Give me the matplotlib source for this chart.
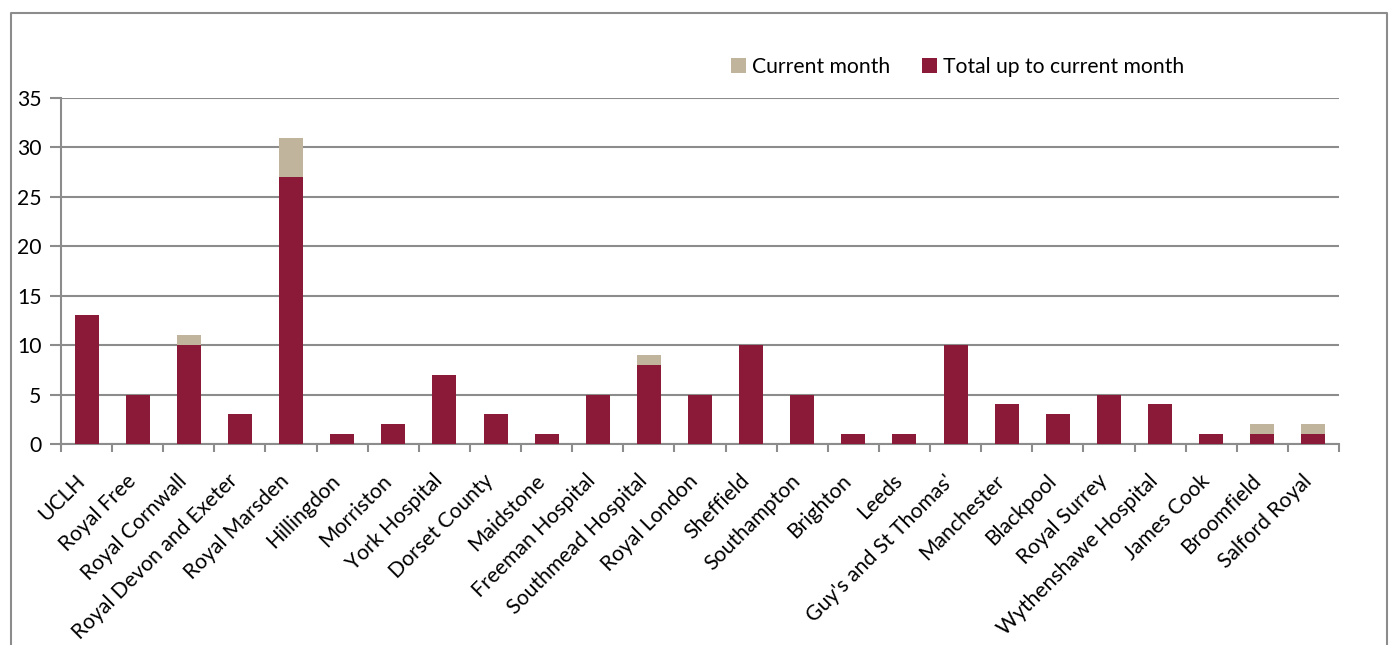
import matplotlib
matplotlib.use("Agg")
import matplotlib.pyplot as plt
from matplotlib.patches import Patch
from matplotlib.lines import Line2D
from matplotlib.transforms import ScaledTranslation
import numpy as np

categories = ["UCLH", "Royal Free", "Royal Cornwall", "Royal Devon and Exeter", "Royal Marsden",
              "Hillingdon", "Morriston", "York Hospital", "Dorset County", "Maidstone",
              "Freeman Hospital", "Southmead Hospital", "Royal London", "Sheffield", "Southampton",
              "Brighton", "Leeds", "Guy's and St Thomas'", "Manchester", "Blackpool",
              "Royal Surrey", "Wythenshawe Hospital", "James Cook", "Broomfield", "Salford Royal"]
total_to_date = [13, 5, 10, 3, 27, 1, 2, 7, 3, 1, 5, 8, 5, 10, 5, 1, 1, 10, 4, 3, 5, 4, 1, 1, 1]
current_month = [0, 0, 1, 0, 4, 0, 0, 0, 0, 0, 0, 1, 0, 0, 0, 0, 0, 0, 0, 0, 0, 0, 0, 1, 1]
yticks = [0, 5, 10, 15, 20, 25, 30, 35]

MAROON = "#8B1A38"
BEIGE = "#C0B49C"
GRID = "#8C8C8C"
FONT = "Lato"
FS = 15.2

plt.rcParams['font.family'] = [FONT, 'DejaVu Sans']

W, H = 1390, 645
fig = plt.figure(figsize=(W / 100, H / 100), dpi=100)

# outer frame (left, top, right; bottom cut off)
fx0, fy0, fx1 = 11 / W, 1 - 13 / H, 1387 / W
fig.add_artist(Line2D([fx0, fx0, fx1, fx1], [0, fy0, fy0, 0], transform=fig.transFigure,
                      color=GRID, lw=1.5))

ax = fig.add_axes([61 / W, 201 / H, (1339 - 61) / W, (547 - 201) / H])
x = np.arange(len(categories))
ax.bar(x, total_to_date, width=0.47, color=MAROON, zorder=3)
ax.bar(x, current_month, width=0.47, bottom=total_to_date, color=BEIGE, zorder=3)

ax.set_xlim(-0.5, len(categories) - 0.5)
ax.set_ylim(0, 35)
ax.set_yticks(yticks)
ax.set_yticklabels([str(v) for v in yticks], fontsize=FS, color="black")
ax.yaxis.grid(True, color=GRID, lw=1.5, zorder=0)
ax.tick_params(axis='y', length=8, width=1.5, color=GRID, pad=6)

ax.set_xticks(x)
ax.set_xticklabels(categories, rotation=45, ha='right', va='top', rotation_mode='anchor',
                   fontsize=FS)
ax.tick_params(axis='x', which='major', length=0, pad=20)
offset = ScaledTranslation(-12 / 100, 1 / 100, fig.dpi_scale_trans)
for lbl in ax.get_xticklabels():
    lbl.set_transform(lbl.get_transform() + offset)
ax.set_xticks(np.arange(-0.5, len(categories)), minor=True)
ax.tick_params(axis='x', which='minor', length=6, width=1.5, color=GRID, direction='out')

for s in ['top', 'right']:
    ax.spines[s].set_visible(False)
for s in ['left', 'bottom']:
    ax.spines[s].set_color(GRID)
    ax.spines[s].set_linewidth(1.5)

handles = [Patch(facecolor=BEIGE, label="Current month"),
           Patch(facecolor=MAROON, label="Total up to current month")]
fig.legend(handles=handles, loc='center left', bbox_to_anchor=(731 / W, 1 - 67 / H),
           ncol=2, frameon=False, fontsize=FS, handlelength=0.7, handleheight=0.7,
           handletextpad=0.3, columnspacing=1.5, borderaxespad=0, borderpad=0)

fig.savefig("out.png", dpi=100, facecolor="white")
